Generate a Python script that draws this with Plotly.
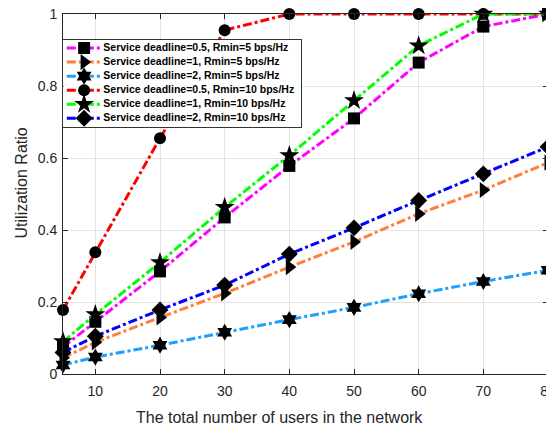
import plotly.graph_objects as go

users = [5, 10, 20, 30, 40, 50, 60, 70, 80]

names = [
    "Service deadline=0.5, Rmin=5 bps/Hz",
    "Service deadline=1, Rmin=5 bps/Hz",
    "Service deadline=2, Rmin=5 bps/Hz",
    "Service deadline=0.5, Rmin=10 bps/Hz",
    "Service deadline=1, Rmin=10 bps/Hz",
    "Service deadline=2, Rmin=10 bps/Hz",
]

d05_r5 = [0.075, 0.145, 0.285, 0.435, 0.578, 0.71, 0.865, 0.965, 1.0]
d1_r5 = [0.045, 0.088, 0.157, 0.224, 0.297, 0.367, 0.445, 0.511, 0.587]
d2_r5 = [0.025, 0.047, 0.08, 0.116, 0.151, 0.185, 0.223, 0.257, 0.288]
d05_r10 = [0.178, 0.338, 0.655, 0.955, 1.0, 1.0, 1.0, 1.0, 1.0]
d1_r10 = [0.09, 0.165, 0.31, 0.463, 0.607, 0.76, 0.912, 1.0, 1.0]
d2_r10 = [0.06, 0.105, 0.178, 0.247, 0.333, 0.406, 0.482, 0.556, 0.631]

x_ticks = [10, 20, 30, 40, 50, 60, 70, 80]
y_ticks = [0, 0.2, 0.4, 0.6, 0.8, 1]
y_ticktext = ["0", "0.2", "0.4", "0.6", "0.8", "1"]

series = [d05_r5, d1_r5, d2_r5, d05_r10, d1_r10, d2_r10]
colors = ["#FF00FF", "#FF7F3F", "#1EA0FF", "#FF0000", "#00FF00", "#0000FF"]
symbols = ["square", "triangle-right", "hexagram", "circle", "star", "diamond"]
sizes = [12, 14, 13, 12, 15, 13]
DASH = "9px,3px,3px,3px"
FONT = "Liberation Sans, Arial, sans-serif"
AXC = "#262626"

fig = go.Figure()
for name, ys, c, s, sz in zip(names, series, colors, symbols, sizes):
    fig.add_trace(go.Scatter(
        x=users, y=ys, name=name, mode="lines+markers", cliponaxis=False,
        line=dict(color=c, width=3, dash=DASH),
        marker=dict(symbol=s, size=sz, color="black", line=dict(width=0)),
        showlegend=False,
    ))

# custom legend drawn in an inset subplot (rows indexed by series order)
n = len(names)
for i, (name, c, s, sz) in enumerate(zip(names, colors, symbols, sizes)):
    row = n - 1 - i
    fig.add_trace(go.Scatter(
        x=[0.014, 0.157], y=[row, row], mode="lines", xaxis="x2", yaxis="y2",
        line=dict(color=c, width=3, dash=DASH), showlegend=False, hoverinfo="skip",
    ))
    fig.add_trace(go.Scatter(
        x=[0.087], y=[row], mode="markers", xaxis="x2", yaxis="y2", cliponaxis=False,
        marker=dict(symbol=s, size=sz, color="black", line=dict(width=0)),
        showlegend=False, hoverinfo="skip",
    ))
    fig.add_trace(go.Scatter(
        x=[0.168], y=[row], mode="text", text=[name], textposition="middle right",
        xaxis="x2", yaxis="y2", cliponaxis=False,
        textfont=dict(family=FONT, size=10.5, color="black", weight="bold"),
        showlegend=False, hoverinfo="skip",
    ))

axis_common = dict(
    showline=True, linecolor=AXC, linewidth=1, mirror="ticks",
    ticks="inside", ticklen=5, tickcolor=AXC,
    showgrid=True, gridcolor="#E3E3E3", gridwidth=1,
    zeroline=False, automargin=False, ticklabeloverflow="allow",
    tickfont=dict(family=FONT, size=14, color=AXC),
)

# the page adds an 8px body margin, so the figure is 8px smaller than the window
fig.update_layout(
    width=546, height=417,
    margin=dict(l=55, r=6, t=6, b=51),
    plot_bgcolor="white", paper_bgcolor="white",
    xaxis=dict(range=[5, 80], tickvals=x_ticks, ticklabelstandoff=4,
               **axis_common),
    yaxis=dict(range=[0, 1], tickvals=y_ticks, ticktext=y_ticktext,
               ticklabelstandoff=2, **axis_common),
    xaxis2=dict(domain=[0.001, 0.49], anchor="y2", range=[0, 1],
                showgrid=False, zeroline=False, showticklabels=False, ticks="",
                showline=True, mirror=True, linecolor="#333333", linewidth=1),
    yaxis2=dict(domain=[0.686, 0.929], anchor="x2", range=[-0.62, 5.6],
                showgrid=False, zeroline=False, showticklabels=False, ticks="",
                showline=True, mirror=True, linecolor="#333333", linewidth=1),
    annotations=[
        dict(text="The total number of users in the network", xref="paper", yref="paper",
             x=0.447, y=-0.1206, xanchor="center", yanchor="middle", showarrow=False,
             font=dict(family=FONT, size=16, color=AXC)),
        dict(text="Utilization Ratio", xref="paper", yref="paper", textangle=-90,
             x=-0.0866, y=0.532, xanchor="center", yanchor="middle", showarrow=False,
             font=dict(family=FONT, size=16, color=AXC)),
    ],
    showlegend=False,
)

fig.write_html("out.html")
